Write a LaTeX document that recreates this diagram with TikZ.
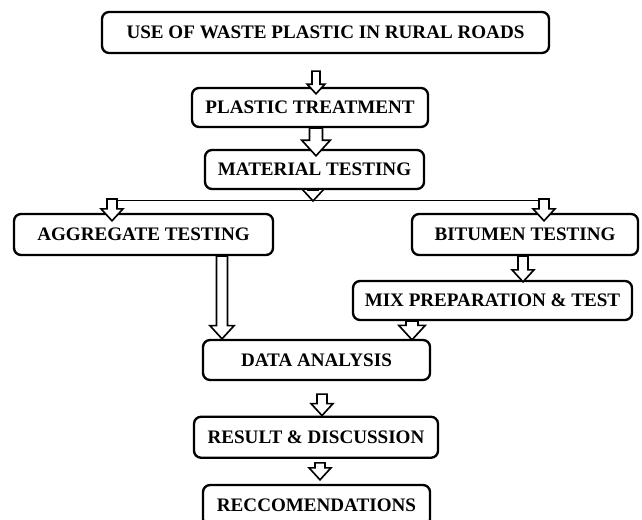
\documentclass[tikz,border=0pt]{standalone}
\usepackage{fontspec}
\setmainfont{Liberation Serif}
\usetikzlibrary{calc}
\tikzset{
  every picture/.style={line join=miter},
  stage/.style={draw, line width=2pt, rounded corners=6pt, fill=white, align=center,
    font=\fontsize{16.3}{19}\selectfont\bfseries, inner sep=2pt},
  hollow/.style={draw, line width=1.4pt, fill=white},
  branch/.style={line width=0.8pt},
}
% hollow block arrow, straight down from #2 to the height of #3
\newcommand\harrow[3][1]{%
  \draw[hollow] let \p1=#2, \p2=#3 in
    (\x1-0.15cm*#1,\y1) -- (\x1-0.15cm*#1,\y2+0.36cm*#1) -- (\x1-0.33cm*#1,\y2+0.36cm*#1)
    -- (\x1,\y2) -- (\x1+0.33cm*#1,\y2+0.36cm*#1) -- (\x1+0.15cm*#1,\y2+0.36cm*#1)
    -- (\x1+0.15cm*#1,\y1) -- cycle;}

\begin{document}
\begin{tikzpicture}
  \useasboundingbox[fill=white] (0,0) rectangle (19.26,-15.6);
  % ---------------- stages
  \node[stage, minimum width=13.41cm, minimum height=1.23cm] (use) at (9.765,-0.975) {USE OF WASTE PLASTIC IN RURAL ROADS};
  \node[stage, minimum width=7.08cm, minimum height=1.17cm] (treat) at (9.3,-3.225) {PLASTIC TREATMENT};
  \node[stage, minimum width=6.57cm, minimum height=1.17cm] (mat) at (9.435,-5.085) {MATERIAL TESTING};
  \node[stage, minimum width=7.77cm, minimum height=1.23cm] (agg) at (4.305,-7.035) {AGGREGATE TESTING};
  \node[stage, minimum width=6.78cm, minimum height=1.23cm] (bit) at (15.75,-7.035) {BITUMEN TESTING};
  \node[stage, minimum width=8.37cm, minimum height=1.17cm] (mix) at (14.775,-9.015) {MIX PREPARATION \& TEST};
  \node[stage, minimum width=6.81cm, minimum height=1.2cm] (data) at (9.495,-10.8) {DATA ANALYSIS};
  \node[stage, minimum width=7.32cm, minimum height=1.23cm] (res) at (9.48,-13.1175) {RESULT \& DISCUSSION};
  \node[stage, minimum width=6.81cm, minimum height=1.23cm] (rec) at (9.495,-15.165) {RECCOMENDATIONS};
  % ---------------- branch line under material testing
  \coordinate (lft) at (3.21,-6.0);
  \coordinate (rgt) at (16.41,-6.0);
  \draw[branch] (lft) -- (rgt);
  % ---------------- arrows
  \harrow[0.8]{([xshift=-0.285cm,yshift=-0.51cm]use.south)}{([yshift=-0.21cm]treat.north)}
  \harrow[1.3]{([xshift=0.18cm]treat.south)}{([yshift=-0.21cm]mat.north)}
  \harrow{([xshift=-0.045cm]mat.south)}{([yshift=-0.03cm]lft)}
  \harrow{([xshift=0.15cm,yshift=0.03cm]lft)}{([yshift=-0.24cm]agg.north)}
  \harrow{([xshift=-0.09cm,yshift=0.03cm]rgt)}{([yshift=-0.24cm]bit.north)}
  \harrow[1.1]{([xshift=2.355cm]agg.south)}{(data.north)}
  \harrow{([xshift=-0.06cm]bit.south)}{([yshift=-0.06cm]mix.north)}
  \harrow[1.2]{([xshift=-2.415cm]mix.south)}{([yshift=-0.03cm]data.north)}
  \harrow{([xshift=0.165cm,yshift=-0.39cm]data.south)}{(res.north)}
  \harrow{([xshift=0.12cm,yshift=-0.12cm]res.south)}{([yshift=0.12cm]rec.north)}
\end{tikzpicture}
\end{document}
